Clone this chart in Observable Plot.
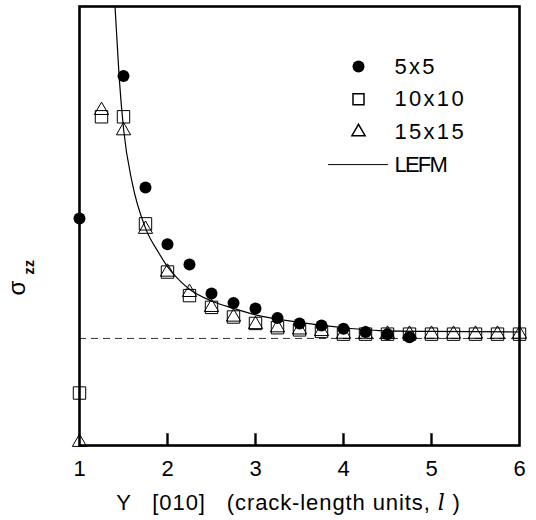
<!DOCTYPE html>
<html><head><meta charset="utf-8">
<script src="https://cdn.jsdelivr.net/npm/d3@7"></script>
<script src="https://cdn.jsdelivr.net/npm/@observablehq/plot@0.6"></script>
<style>
body{margin:0;background:#fff;}
svg text{white-space:pre;}
</style></head><body><div id="chart"></div>
<script>
// ---- data (stress sigma_zz, in units of far-field stress; y axis has no ticks) ----
const xTicks = [1, 2, 3, 4, 5, 6];
const innerTicks = [2, 3, 4, 5];

const fiveX = [1, 1.5, 1.75, 2, 2.25, 2.5, 2.75, 3, 3.25, 3.5, 3.75, 4, 4.25, 4.5, 4.75];
const fiveY = [2.12, 3.45, 2.41, 1.88, 1.69, 1.42, 1.33, 1.28, 1.19, 1.14, 1.12, 1.09, 1.06, 1.04, 1.01];

const tenX = [1, 1.25, 1.5, 1.75, 2, 2.25, 2.5, 2.75, 3, 3.25, 3.5, 3.75, 4, 4.25, 4.5, 4.75, 5, 5.25, 5.5, 5.75, 6];
const tenY = [0.49, 3.07, 3.07, 2.07, 1.62, 1.40, 1.29, 1.20, 1.14, 1.10, 1.08, 1.065, 1.04, 1.04, 1.04, 1.04, 1.04, 1.04, 1.04, 1.04, 1.04];

const fifteenX = [1, 1.25, 1.5, 1.75, 2, 2.25, 2.5, 2.75, 3, 3.25, 3.5, 3.75, 4, 4.25, 4.5, 4.75, 5, 5.25, 5.5, 5.75, 6];
const fifteenY = [0.03, 3.13, 2.94, 2.02, 1.62, 1.43, 1.29, 1.20, 1.13, 1.10, 1.08, 1.065, 1.04, 1.04, 1.04, 1.04, 1.04, 1.04, 1.04, 1.04, 1.04];

const lefmX = [1.40, 1.45, 1.5, 1.6, 1.75, 1.9, 2.0, 2.15, 2.25, 2.5, 2.75, 3.0, 3.5, 4.0, 4.5, 5.0, 6.0];
const lefmY = [4.15, 3.45, 2.96, 2.45, 2.03, 1.80, 1.67, 1.53, 1.46, 1.35, 1.28, 1.22, 1.15, 1.10, 1.07, 1.065, 1.06];

const farField = [1];
const legendLabels = ["5x5", "10x10", "15x15", "LEFM"];
const xLabel = "Y   [010]   (crack-length units, l )";

// ---- build ----
const rows = (xs, ys) => xs.map((x, i) => ({x, y: ys[i]}));
const five = rows(fiveX, fiveY);
const ten = rows(tenX, tenY);
const fifteen = rows(fifteenX, fifteenY);
const lefm = rows(lefmX, lefmY);
const tickLen = 0.11; // inward tick length (style), in y units
const tickRows = innerTicks.map(x => ({x, y1: 0, y2: tickLen}));

const font = "'Liberation Sans', Arial, Helvetica, sans-serif";
const legTop = 60, legStep = 32.7;
const lineShape = {draw(ctx, l) { ctx.moveTo(0, 0); ctx.lineTo(0, -l); }};

const chart = Plot.plot({
  width: 536, height: 520,
  marginLeft: 79, marginRight: 17, marginTop: 6, marginBottom: 75,
  style: {fontFamily: font, background: "white", color: "black", overflow: "visible"},
  x: {domain: [1, 6], axis: null},
  y: {domain: [0, 4.1], axis: null},
  marks: [
    Plot.ruleY(farField, {stroke: "#333", strokeDasharray: "7,5", strokeWidth: 1}),
    Plot.line(lefm, {x: "x", y: "y", curve: "monotone-x", stroke: "black", strokeWidth: 1.2, clip: true}),
    Plot.dot(five, {x: "x", y: "y", r: 6, fill: "black", symbol: "circle"}),
    Plot.dot(ten, {x: "x", y: "y", r: 7, symbol: "square", stroke: "black", fill: "none", strokeWidth: 1}),
    Plot.dot(fifteen, {x: "x", y: "y", r: 5.3, symbol: "triangle", stroke: "black", fill: "none", strokeWidth: 1}),
    // inward ticks on the bottom axis
    Plot.ruleX(tickRows, {x: "x", y1: "y1", y2: "y2", stroke: "black", strokeWidth: 2.4}),
    Plot.axisX({ticks: xTicks, tickSize: 0, tickPadding: 15, fontSize: 22, tickFormat: d => String(d), label: null}),
    Plot.frame({stroke: "black", strokeWidth: 2.6}),
    // legend
    Plot.dot([legendLabels[0]], {frameAnchor: "top-left", dx: 279, dy: legTop, r: 6, fill: "black", symbol: "circle"}),
    Plot.dot([legendLabels[1]], {frameAnchor: "top-left", dx: 279, dy: legTop + legStep, r: 6.2, symbol: "square", stroke: "black", fill: "none"}),
    Plot.dot([legendLabels[2]], {frameAnchor: "top-left", dx: 279, dy: legTop + 2 * legStep, r: 4.9, symbol: "triangle", stroke: "black", fill: "none"}),
    Plot.vector([legendLabels[3]], {frameAnchor: "top-left", dx: 249, dy: legTop + 3 * legStep, length: 59, rotate: 90, anchor: "start", shape: lineShape, stroke: "black", strokeWidth: 1}),
    ...legendLabels.map((lab, i) => Plot.text([lab], {
      text: d => d, frameAnchor: "top-left", dx: 315, dy: legTop + i * legStep,
      textAnchor: "start", lineAnchor: "middle", fontSize: 22
    })),
    // axis titles
    Plot.text([xLabel], {text: d => d, frameAnchor: "bottom", dx: -11, dy: 57, textAnchor: "middle", lineAnchor: "middle", fontSize: 22}),
    Plot.text(["σ"], {text: d => d, frameAnchor: "left", dx: -62, dy: 62, rotate: -90, textAnchor: "middle", lineAnchor: "middle", fontSize: 24}),
    Plot.text(["zz"], {text: d => d, frameAnchor: "left", dx: -50, dy: 41, rotate: -90, textAnchor: "middle", lineAnchor: "middle", fontSize: 14, fontWeight: "bold"})
  ]
});

// letter spacing (not a Plot text option) and the italic "l"
const spacing = {"5x5": 2.3, "10x10": 2.3, "15x15": 2.3, "LEFM": -1.8, "zz": 0.5};
spacing[xLabel] = 0.9;
const ns = "http://www.w3.org/2000/svg";
for (const t of chart.querySelectorAll("text")) {
  const s = t.textContent;
  if (s in spacing) t.setAttribute("letter-spacing", spacing[s]);
  if (s === xLabel) {
    const idx = s.lastIndexOf(" l ");
    const target = t.querySelector("tspan") || t;
    target.textContent = "";
    const parts = [[s.slice(0, idx + 1), false], ["l", true], [s.slice(idx + 2), false]];
    for (const [p, it] of parts) {
      const ts = document.createElementNS(ns, "tspan");
      ts.textContent = p;
      if (it) { ts.setAttribute("font-style", "italic"); ts.setAttribute("font-family", "'DejaVu Serif', serif"); }
      target.appendChild(ts);
    }
  }
}
document.getElementById("chart").appendChild(chart);
</script>
</body></html>
